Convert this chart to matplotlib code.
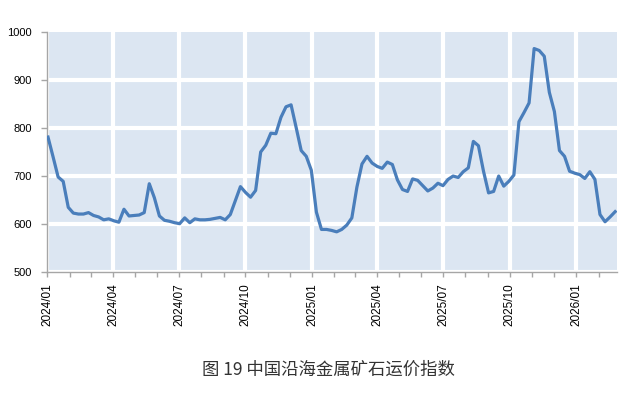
import pandas as pd
import matplotlib
matplotlib.use('Agg')
import matplotlib.pyplot as plt
import matplotlib.dates as mdates

plt.rcParams['font.family'] = ['Liberation Sans', 'DejaVu Sans']

# weekly index values (2024/01 .. 2026/02)
start_date = '2024-01-02'
index_values = [
    781, 740, 698, 689, 635, 623, 621, 621, 624, 618,
    615, 609, 611, 607, 604, 631, 617, 618, 619, 624,
    684, 655, 617, 608, 606, 603, 601, 613, 603, 611,
    609, 609, 610, 612, 614, 609, 620, 649, 678, 666,
    656, 670, 750, 764, 789, 788, 822, 844, 848, 801,
    753, 741, 712, 625, 589, 589, 587, 584, 589, 598,
    613, 677, 725, 741, 727, 720, 716, 729, 724, 692,
    672, 668, 694, 691, 680, 669, 675, 685, 680, 693,
    700, 697, 709, 717, 772, 763, 710, 665, 668, 700,
    679, 689, 702, 813, 832, 852, 965, 961, 949, 874,
    834, 753, 741, 710, 706, 703, 695, 709, 693, 620,
    605, 615, 626,
]
y_ticks = [500, 600, 700, 800, 900, 1000]
caption = '图 19 中国沿海金属矿石运价指数'

dates = pd.date_range(start_date, periods=len(index_values), freq='7D')

fig = plt.figure(figsize=(6.32, 3.94), dpi=100)
ax = fig.add_axes([0.0748, 0.309, 0.902, 0.6105])
ax.set_facecolor('#dce6f2')

ax.plot(dates, index_values, color='#4a7ebb', linewidth=2.3, solid_joinstyle='round', zorder=3)

ax.set_ylim(500, 1000)
ax.set_yticks(y_ticks)
ax.set_xlim(pd.Timestamp('2024-01-01'), pd.Timestamp('2026-02-27'))

ax.xaxis.set_major_locator(mdates.MonthLocator(bymonth=[1, 4, 7, 10]))
ax.xaxis.set_major_formatter(mdates.DateFormatter('%Y/%m'))
ax.xaxis.set_minor_locator(mdates.MonthLocator())

ax.grid(True, which='major', color='white', linewidth=3, zorder=1)
ax.set_axisbelow(True)
# no white line along the top edge in the original
ax.get_ygridlines()[-1].set_visible(False)

for side in ['top', 'right']:
    ax.spines[side].set_visible(False)
for side in ['left', 'bottom']:
    ax.spines[side].set_color('#a6a6a6')
    ax.spines[side].set_linewidth(1.0)

ax.tick_params(axis='y', which='major', length=4, width=1, color='#a6a6a6',
               pad=7, labelsize=8, labelcolor='black')
ax.tick_params(axis='x', which='both', length=3.5, width=1, color='#a6a6a6',
               direction='out')
ax.tick_params(axis='x', which='major', pad=4.5, labelsize=8.5, labelrotation=90,
               labelcolor='black')

fig.text(0.519, 0.061, caption, ha='center', va='center', fontsize=12.5,
         color='#333333', family=['Noto Sans CJK SC', 'DejaVu Sans'])

fig.savefig('out.png', dpi=100)
plt.close(fig)
